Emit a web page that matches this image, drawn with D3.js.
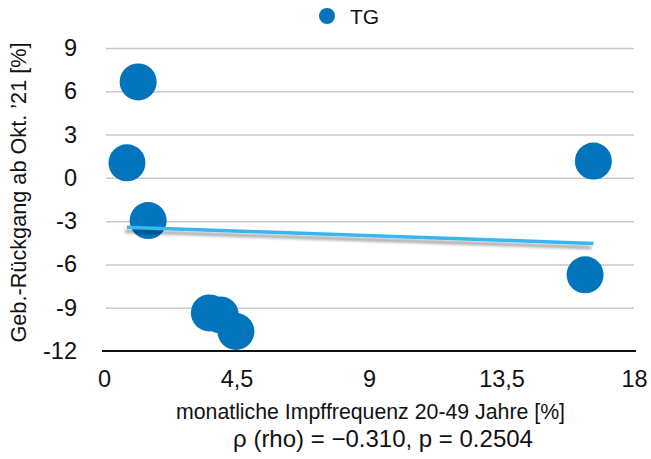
<!DOCTYPE html>
<html>
<head>
<meta charset="utf-8">
<script src="https://cdn.jsdelivr.net/npm/d3@7"></script>
<style>
  html, body { margin: 0; padding: 0; background: #fff; }
  svg { display: block; font-family: Arial, "Liberation Sans", sans-serif; }
</style>
</head>
<body>
<svg id="chart" width="651" height="459"></svg>
<script>
// Data
const impfrequenz = [1.16, 0.78, 1.5, 3.58, 3.95, 4.48, 16.62, 16.34];
const rueckgang = [6.65, 1.04, -2.96, -9.36, -9.5, -10.65, 1.16, -6.72];
const seriesName = "TG";
const xTicks = [0, 4.5, 9, 13.5, 18];
const yTicks = [-12, -9, -6, -3, 0, 3, 6, 9];
const xTitle = "monatliche Impffrequenz 20-49 Jahre [%]";
const yTitle = "Geb.-Rückgang ab Okt. \u201921 [%]";
const statText = "\u03c1 (rho) = \u22120.310, p = 0.2504";

const FONT = "Arial, 'Liberation Sans', sans-serif";
const svg = d3.select("#chart");
const margin = { left: 104, right: 17, top: 48, bottom: 108 };
const W = 651, H = 459;

const x = d3.scaleLinear().domain([0, 18]).range([margin.left, W - margin.right]);
const y = d3.scaleLinear().domain([-12, 9]).range([H - margin.bottom, margin.top]);

const fmt = d => String(d).replace(".", ",");

// gridlines
const grid = svg.append("g")
  .attr("transform", `translate(${x(0) + 2},0)`)
  .call(d3.axisLeft(y).tickValues(yTicks.filter(v => v > -12)).tickSize(-(x(18) - x(0) - 2)).tickFormat(""));
grid.select(".domain").remove();
grid.selectAll(".tick line").attr("stroke", "#c9c9c9").attr("stroke-width", 1.5);

// y tick labels
const yAx = svg.append("g")
  .attr("transform", `translate(${x(0) - 27},0)`)
  .call(d3.axisLeft(y).tickValues(yTicks).tickSize(0).tickPadding(0).tickFormat(d => String(d)));
yAx.select(".domain").remove();
yAx.selectAll("text").attr("font-size", 23.5).attr("fill", "#111").attr("font-family", FONT);

// x axis
const xAx = svg.append("g")
  .attr("transform", `translate(0,${y(-12)})`)
  .call(d3.axisBottom(x).tickValues(xTicks).tickSize(0).tickPadding(19).tickFormat(fmt));
xAx.select(".domain").attr("stroke", "#111").attr("stroke-width", 2.2)
  .attr("d", `M${x(0) - 2},0H${x(18) + 2}`);
xAx.selectAll("text").attr("font-size", 23.5).attr("fill", "#111").attr("font-family", FONT);

// shadow filter for trendline
const defs = svg.append("defs");
const f = defs.append("filter").attr("id", "shadow").attr("x", "-10%").attr("y", "-200%").attr("width", "120%").attr("height", "500%");
f.append("feGaussianBlur").attr("in", "SourceAlpha").attr("stdDeviation", 1.6).attr("result", "b");
f.append("feOffset").attr("in", "b").attr("dx", -2).attr("dy", 4).attr("result", "o");
f.append("feComponentTransfer").attr("in", "o").attr("result", "o2")
  .append("feFuncA").attr("type", "linear").attr("slope", 0.35);
const m = f.append("feMerge");
m.append("feMergeNode").attr("in", "o2");
m.append("feMergeNode").attr("in", "SourceGraphic");

// linear regression
const n = impfrequenz.length;
const mx = d3.mean(impfrequenz), my = d3.mean(rueckgang);
let sxy = 0, sxx = 0;
for (let i = 0; i < n; i++) {
  sxy += (impfrequenz[i] - mx) * (rueckgang[i] - my);
  sxx += (impfrequenz[i] - mx) ** 2;
}
const slope = sxy / sxx, icpt = my - slope * mx;
const [x0, x1] = d3.extent(impfrequenz);

// points
svg.append("g").selectAll("circle")
  .data(impfrequenz.map((v, i) => [v, rueckgang[i]]))
  .join("circle")
  .attr("cx", d => x(d[0]))
  .attr("cy", d => y(d[1]))
  .attr("r", 18.5)
  .attr("fill", "#0174bb");

// trendline
svg.append("line")
  .attr("x1", x(x0)).attr("y1", y(icpt + slope * x0))
  .attr("x2", x(x1)).attr("y2", y(icpt + slope * x1))
  .attr("stroke", "#3ab4f2").attr("stroke-width", 3.5)
  .attr("filter", "url(#shadow)");

// legend
const lg = svg.append("g");
lg.append("circle").attr("cx", 327).attr("cy", 16).attr("r", 8).attr("fill", "#0174bb");
lg.append("text").attr("x", 350).attr("y", 24).attr("font-size", 21).attr("fill", "#111").text(seriesName);

// axis titles
svg.append("text").attr("x", 370.5).attr("y", 419)
  .attr("text-anchor", "middle").attr("font-size", 21.3).attr("fill", "#111").text(xTitle);
svg.append("text").attr("x", 383).attr("y", 447)
  .attr("text-anchor", "middle").attr("font-size", 24).attr("fill", "#111").text(statText);
svg.append("text")
  .attr("transform", `translate(26,${(y(-12) + y(9)) / 2 - 7}) rotate(-90)`)
  .attr("text-anchor", "middle").attr("font-size", 21.7).attr("fill", "#111").text(yTitle);
</script>
</body>
</html>
